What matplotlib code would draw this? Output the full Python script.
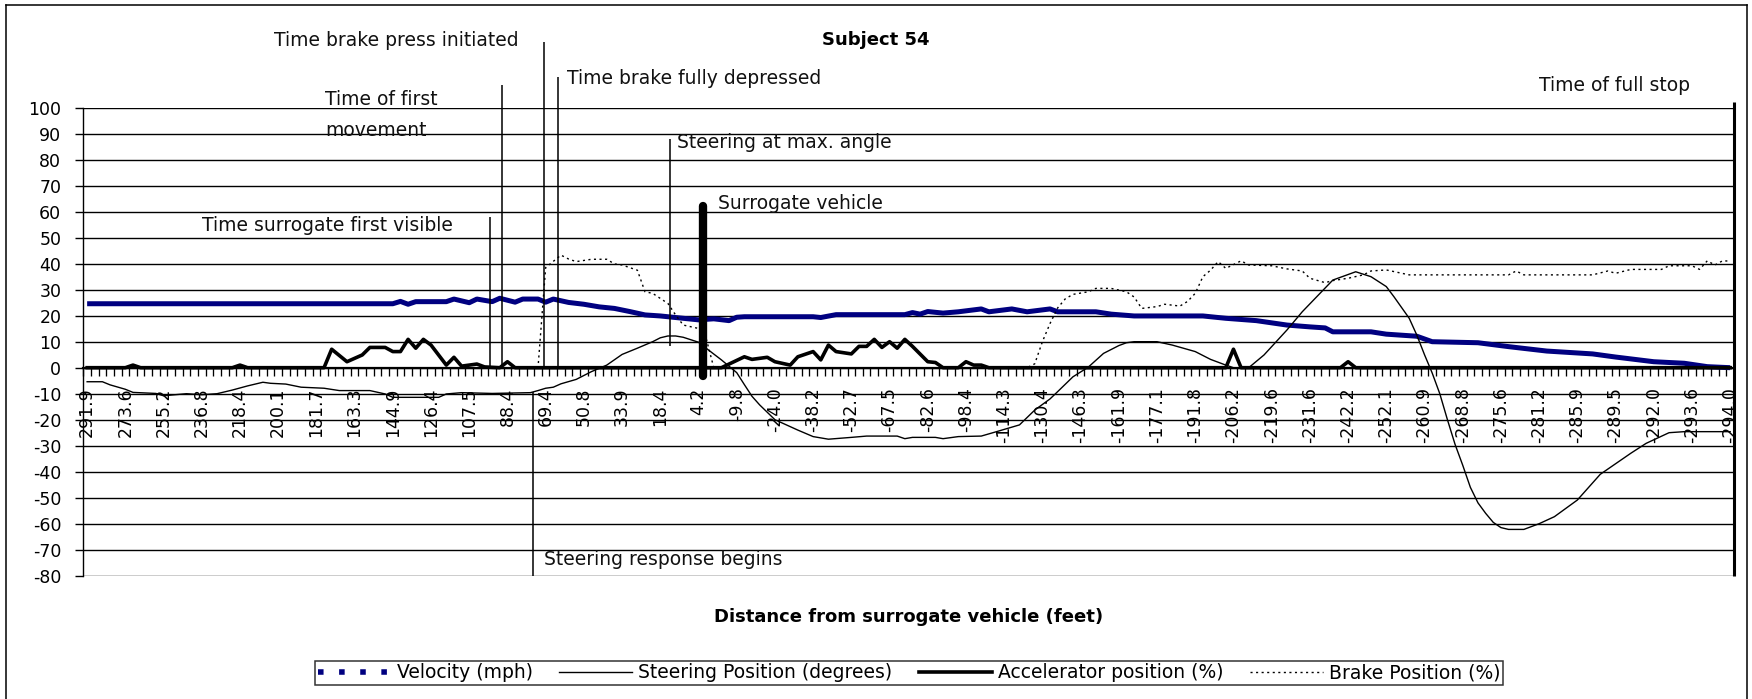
import matplotlib
matplotlib.use("Agg")
import matplotlib.pyplot as plt
from matplotlib.lines import Line2D

plt.rcParams['font.family'] = ['DejaVu Sans']
plt.rcParams['axes.unicode_minus'] = False

#category axis: 216 samples, every 5th one is labelled with its distance (feet)
nCategories = 216
distLabels = ["291.9", "273.6", "255.2", "236.8", "218.4", "200.1", "181.7", "163.3",
              "144.9", "126.4", "107.5", "88.4", "69.4", "50.8", "33.9", "18.4", "4.2",
              "-9.8", "-24.0", "-38.2", "-52.7", "-67.5", "-82.6", "-98.4", "-114.3",
              "-130.4", "-146.3", "-161.9", "-177.1", "-191.8", "-206.2", "-219.6",
              "-231.6", "-242.2", "-252.1", "-260.9", "-268.8", "-275.6", "-281.2",
              "-285.9", "-289.5", "-292.0", "-293.6", "-294.0"]
labelEvery = 5

#series at category positions
velIdx = [0, 40, 41, 42, 43, 47, 48, 50, 51, 53, 54, 56, 57, 59, 60, 61, 63, 65, 67, 69,
          71, 73, 75, 77, 80, 82, 84, 85, 86, 95, 96, 98, 107, 108, 109, 110, 112, 114,
          117, 118, 121, 123, 126, 127, 132, 134, 137, 146, 149, 153, 157, 160, 162, 163,
          168, 170, 174, 176, 182, 186, 191, 197, 200, 205, 209, 212, 215]
velVal = [24.6, 24.6, 25.5, 24.4, 25.4, 25.4, 26.4, 25.0, 26.4, 25.4, 26.7, 25.2, 26.4,
          26.4, 25.2, 26.4, 25.1, 24.4, 23.4, 22.8, 21.6, 20.3, 19.9, 19.3, 18.4, 18.8,
          18.1, 19.4, 19.6, 19.6, 19.3, 20.4, 20.4, 21.2, 20.6, 21.6, 21.0, 21.5, 22.6,
          21.5, 22.6, 21.5, 22.6, 21.5, 21.5, 20.6, 19.9, 19.9, 19.0, 18.1, 16.4, 15.7,
          15.3, 13.8, 13.8, 12.9, 12.1, 10.0, 9.6, 8.1, 6.4, 5.3, 4.1, 2.3, 1.7, 0.4, 0.0]

steerIdx = [0, 2, 3, 5, 6, 9, 10, 13, 15, 17, 19, 21, 23, 24, 26, 28, 31, 33, 37, 39, 40,
            46, 47, 49, 53, 58, 59, 60, 61, 62, 64, 66, 68, 70, 72, 74, 75, 76, 77, 78, 80,
            81, 83, 85, 86, 87, 88, 90, 93, 95, 97, 100, 102, 106, 107, 108, 111, 112, 114,
            117, 119, 122, 124, 126, 127, 129, 131, 133, 135, 136, 137, 140, 142, 145, 147,
            149, 150, 152, 154, 157, 159, 161, 163, 166, 168, 170, 171, 173, 174, 175, 176,
            177, 178, 179, 180, 181, 182, 183, 184, 185, 186, 188, 190, 192, 195, 198, 202,
            204, 207, 209, 215]
steerVal = [-5.4, -5.4, -6.6, -8.3, -9.5, -9.9, -10.8, -10.0, -10.4, -10.0, -8.6, -7.0,
            -5.6, -6.0, -6.3, -7.5, -7.9, -8.8, -8.8, -10.1, -11.4, -11.4, -10.1, -9.6,
            -9.9, -9.6, -8.8, -7.9, -7.5, -6.2, -4.5, -1.5, 1.0, 5.1, 7.5, 10.0, 11.5, 12.2,
            12.2, 11.7, 9.8, 7.5, 3.0, -1.9, -6.5, -11.0, -14.3, -20.0, -24.0, -26.5, -27.5,
            -26.8, -26.3, -26.3, -27.3, -26.8, -26.8, -27.3, -26.5, -26.3, -24.6, -22.0,
            -16.3, -12.0, -9.2, -3.5, 0.2, 5.5, 8.5, 9.6, 10.0, 10.0, 8.7, 6.2, 3.2, 1.0,
            0.0, 0.0, 4.9, 14.5, 21.5, 27.6, 33.7, 36.9, 35.0, 31.2, 27.3, 19.0, 12.5, 5.0,
            -2.0, -10.0, -20.0, -29.5, -37.5, -46.0, -52.0, -56.0, -59.5, -61.5, -62.2,
            -62.2, -60.0, -57.3, -50.9, -41.0, -32.9, -29.1, -25.0, -24.6, -24.6]

accIdx = [0, 5, 6, 7, 19, 20, 21, 31, 32, 34, 36, 37, 39, 40, 41, 42, 43, 44, 45, 47, 48,
          49, 51, 52, 54, 55, 56, 83, 86, 87, 89, 90, 92, 93, 95, 96, 97, 98, 100, 101,
          102, 103, 104, 105, 106, 107, 108, 110, 111, 112, 114, 115, 116, 117, 118, 149,
          150, 151, 164, 165, 166, 215]
accVal = [0, 0, 1.0, 0, 0, 1.0, 0, 0, 7.1, 2.3, 4.9, 7.8, 7.8, 6.2, 6.2, 10.9, 7.5, 10.9,
          8.7, 1.0, 4.0, 0.6, 1.4, 0.3, 0, 2.3, 0, 0, 4.2, 3.2, 4.0, 2.3, 1.0, 4.2, 6.2,
          3.0, 8.7, 6.2, 5.3, 8.2, 8.2, 10.9, 7.8, 10.0, 7.5, 10.9, 8.2, 2.3, 2.0, 0, 0,
          2.3, 1.0, 1.0, 0, 0, 7.1, 0, 0, 2.3, 0, 0]

brakeIdx = [0, 59, 60, 62, 63, 64, 66, 68, 69, 70, 72, 73, 74, 76, 77, 78, 80, 81, 82, 123,
            124, 125, 126, 127, 128, 129, 131, 132, 134, 136, 137, 138, 140, 141, 143, 144,
            145, 146, 147, 148, 149, 151, 152, 155, 157, 159, 160, 162, 163, 165, 167, 168,
            170, 173, 186, 187, 188, 197, 199, 200, 202, 206, 207, 210, 211, 212, 213, 214,
            215]
brakeVal = [0, 0, 38.5, 43.3, 41.8, 40.8, 41.7, 41.7, 39.9, 39.5, 37.5, 29.2, 28.6, 24.7,
            20.3, 16.4, 15.1, 11.3, 0, 0, 1.5, 10.0, 17.0, 23.0, 26.5, 28.2, 29.2, 30.5,
            30.5, 29.2, 27.2, 22.8, 23.5, 24.4, 23.7, 25.5, 28.6, 35.0, 37.5, 40.8, 38.2,
            41.1, 39.5, 39.2, 38.0, 37.2, 34.4, 32.7, 33.5, 34.4, 35.7, 37.2, 37.6, 35.7,
            35.7, 37.2, 35.7, 35.7, 37.2, 36.3, 37.8, 37.8, 39.2, 39.2, 37.8, 41.1, 39.5,
            41.1, 41.0]

#event markers (category position, line top, line bottom)
eventNames = ["Time surrogate first visible", "Time of first movement",
              "Time brake press initiated", "Time brake fully depressed",
              "Steering at max. angle", "Surrogate vehicle",
              "Steering response begins", "Time of full stop"]
eventIdx = [52.7, 54.3, 59.8, 61.6, 76.3, 80.6, 58.4, 215.5]
eventTop = [58.1, 108.7, 125.4, 111.8, 87.9, 62.0, -9.2, 102.3]
eventBottom = [0, 0, 0, 0, 8.5, -3.2, -80, -80]

yTicks = list(range(-80, 101, 10))

fig = plt.figure(figsize=(17.52, 6.99), dpi=100)
ax = fig.add_axes([0.04755, 0.1764, 0.94218, 0.66953])

ax.plot(velIdx, velVal, color='#000080', lw=3.6, solid_capstyle='butt', zorder=3)
ax.plot(steerIdx, steerVal, color='black', lw=1.0, zorder=4)
ax.plot(accIdx, accVal, color='black', lw=2.6, zorder=5)
ax.plot(brakeIdx, brakeVal, color='black', lw=1.0, ls=(0, (1.5, 2.5)), zorder=6)

ax.set_xlim(-0.5, nCategories - 0.5)
ax.set_ylim(-80, 100)

#value axis
ax.set_yticks(yTicks)
ax.set_yticklabels([str(v) for v in yTicks])
ax.tick_params(axis='y', length=5.8, width=1.0, pad=10, labelsize=12.5)
ax.yaxis.grid(True, color='black', lw=1.0)

#category axis crosses at 0
ax.spines['bottom'].set_position(('data', 0))
ax.spines['bottom'].set_linewidth(1.6)
ax.spines['left'].set_linewidth(1.0)
ax.spines['top'].set_visible(False)
ax.spines['right'].set_visible(False)
labelIdx = list(range(0, nCategories, labelEvery))
ax.set_xticks(labelIdx)
ax.set_xticklabels(distLabels, rotation=90)
ax.set_xticks([i - 0.5 for i in range(nCategories + 1)], minor=True)
ax.tick_params(axis='x', which='major', length=0, pad=14, labelsize=12.5)
ax.tick_params(axis='x', which='minor', length=5.5, width=0.95, direction='out')

#event lines
for i in range(len(eventNames)):
    lw = 1.1
    cap = 'butt'
    if eventNames[i] == "Surrogate vehicle":
        lw = 6.0
        cap = 'round'
    elif eventNames[i] == "Time of full stop":
        lw = 2.2
    ax.plot([eventIdx[i], eventIdx[i]], [eventBottom[i], eventTop[i]], color='black',
            lw=lw, solid_capstyle=cap, clip_on=False, zorder=7)

#event captions
txt = dict(fontsize=13.5, color='#111111', va='center', clip_on=False, zorder=8)
ax.text(47.9, 54.5, "Time surrogate first visible", ha='right', **txt)
ax.text(31.1, 103.3, "Time of first", ha='left', **txt)
ax.text(31.1, 91.4, "movement", ha='left', **txt)
ax.text(56.5, 126.0, "Time brake press initiated", ha='right', **txt)
ax.text(62.8, 111.4, "Time brake fully depressed", ha='left', **txt)
ax.text(77.2, 86.5, "Steering at max. angle", ha='left', **txt)
ax.text(82.5, 63.3, "Surrogate vehicle", ha='left', **txt)
ax.text(59.8, -73.6, "Steering response begins", ha='left', **txt)
ax.text(209.7, 108.7, "Time of full stop", ha='right', **txt)

fig.text(0.5, 1 - 40 / 699, "Subject 54", ha='center', va='center', fontsize=13,
         fontweight='bold')
fig.text(0.5185, 1 - 616.6 / 699, "Distance from surrogate vehicle (feet)", ha='center',
         va='center', fontsize=13, fontweight='bold')

#legend
handles = [Line2D([], [], color='#000080', lw=4, ls=(0, (1, 2.8))),
           Line2D([], [], color='black', lw=1.0),
           Line2D([], [], color='black', lw=2.6),
           Line2D([], [], color='black', lw=1.0, ls=(0, (1.5, 2.5)))]
names = ["Velocity (mph)", "Steering Position (degrees)", "Accelerator position (%)",
         "Brake Position (%)"]
leg = fig.legend(handles, names, loc='center', ncol=4, mode='expand',
                 bbox_to_anchor=(315 / 1752, 1 - 686 / 699, 1188 / 1752, 26 / 699),
                 bbox_transform=fig.transFigure, fontsize=13.5, frameon=True,
                 fancybox=False, borderpad=0.15, handlelength=3.9, handletextpad=0.3,
                 columnspacing=0.4, borderaxespad=0)
leg.get_frame().set_edgecolor('black')
leg.get_frame().set_linewidth(1.1)

#chart area border (left, top, right)
fx0, fx1 = 6 / 1752, 1747 / 1752
fyTop = 1 - 5 / 699
for xs, ys in [([fx0, fx0], [0, fyTop]), ([fx0, fx1], [fyTop, fyTop]), ([fx1, fx1], [0, fyTop])]:
    fig.add_artist(Line2D(xs, ys, color='black', lw=1.1, transform=fig.transFigure))

fig.savefig("out.png", dpi=100)
